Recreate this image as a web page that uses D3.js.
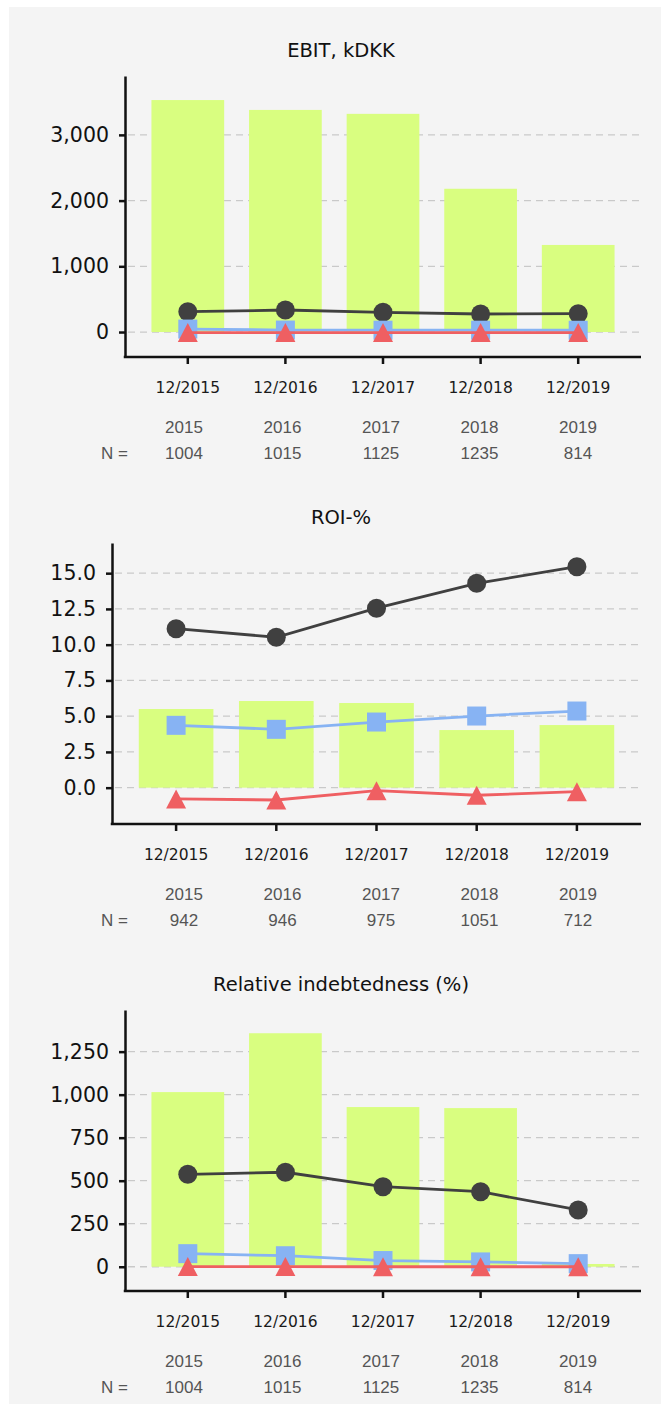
<!DOCTYPE html>
<html>
<head>
<meta charset="utf-8">
<script src="https://cdn.jsdelivr.net/npm/d3@7"></script>
<style>
  html, body { margin: 0; padding: 0; background: #ffffff; }
  svg { display: block; }
</style>
</head>
<body>
<svg id="chart" width="661" height="1405"></svg>
<script>
// Reporting periods and the sample table underneath each panel
const periods = ["12/2015", "12/2016", "12/2017", "12/2018", "12/2019"];
const years = ["2015", "2016", "2017", "2018", "2019"];

// EBIT, kDKK
const ebitCompany = [3530, 3380, 3320, 2180, 1325];
const ebitUpper = [309, 335, 300, 274, 279];
const ebitMedian = [45, 30, 28, 28, 27];
const ebitLower = [-8, -8, -8, -8, -8];
const ebitN = [1004, 1015, 1125, 1235, 814];
const ebitTicks = [0, 1000, 2000, 3000];
const ebitDomain = [-380, 3896];

// ROI-%
const roiCompany = [5.50, 6.06, 5.92, 4.03, 4.38];
const roiUpper = [11.12, 10.52, 12.55, 14.29, 15.45];
const roiMedian = [4.36, 4.08, 4.59, 5.01, 5.36];
const roiLower = [-0.79, -0.86, -0.21, -0.53, -0.28];
const roiN = [942, 946, 975, 1051, 712];
const roiTicks = [0, 2.5, 5, 7.5, 10, 12.5, 15];
const roiDomain = [-2.54, 17.11];

// Relative indebtedness (%)
const debtCompany = [1015, 1357, 928, 922, 16];
const debtUpper = [537, 549, 465, 436, 330];
const debtMedian = [76, 64, 36, 28, 18];
const debtLower = [1, 1, 0, 0, 0];
const debtN = [1004, 1015, 1125, 1235, 814];
const debtTicks = [0, 250, 500, 750, 1000, 1250];
const debtDomain = [-141, 1492];

const panels = [
  { title: "EBIT, kDKK", company: ebitCompany, upper: ebitUpper, median: ebitMedian,
    lower: ebitLower, n: ebitN, ticks: ebitTicks, domain: ebitDomain,
    fmt: d3.format(",.0f"), left: 125 },
  { title: "ROI-%", company: roiCompany, upper: roiUpper, median: roiMedian,
    lower: roiLower, n: roiN, ticks: roiTicks, domain: roiDomain,
    fmt: d3.format(".1f"), left: 112 },
  { title: "Relative indebtedness (%)", company: debtCompany, upper: debtUpper, median: debtMedian,
    lower: debtLower, n: debtN, ticks: debtTicks, domain: debtDomain,
    fmt: d3.format(",.0f"), left: 125 }
];

const colors = {
  bg: "#f4f4f4",
  bar: "#d9fe80",
  upper: "#404040",
  median: "#87b3f3",
  lower: "#ef5f62",
  grid: "#c9c9c9",
  axis: "#111111",
  table: "#555555"
};

const svg = d3.select("#chart");
svg.append("rect").attr("x", 9).attr("y", 7).attr("width", 652).attr("height", 1397)
  .attr("fill", colors.bg);

const panelHeight = 467;
const plotTop = 76, plotBottom = 357, plotRight = 641;
const tableX = d3.scalePoint().domain(years).range([184, 578]);

const triangle = (w, h) => `M0,${-h / 2}L${w / 2},${h / 2}L${-w / 2},${h / 2}Z`;

panels.forEach((p, i) => {
  const g = svg.append("g").attr("transform", `translate(0,${i * panelHeight})`);

  const x = d3.scaleBand().domain(periods)
    .range([p.left + 14, plotRight - 14]).paddingInner(0.255).paddingOuter(0.1275);
  const y = d3.scaleLinear().domain(p.domain).range([plotBottom, plotTop]);
  const cx = d => x(d) + x.bandwidth() / 2;

  // Title
  g.append("text").attr("x", 341).attr("y", 56.5).attr("text-anchor", "middle")
    .attr("font-family", "DejaVu Sans").attr("font-size", 19.5).attr("fill", "#111")
    .text(p.title);

  // Gridlines
  g.append("g").selectAll("line").data(p.ticks).join("line")
    .attr("x1", p.left + 3).attr("x2", plotRight)
    .attr("y1", d => y(d)).attr("y2", d => y(d))
    .attr("stroke", colors.grid).attr("stroke-width", 1.3)
    .attr("stroke-dasharray", "7,5");

  // Company bars
  g.append("g").selectAll("rect").data(periods).join("rect")
    .attr("x", d => x(d)).attr("width", x.bandwidth())
    .attr("y", (d, j) => Math.min(y(p.company[j]), y(0)))
    .attr("height", (d, j) => Math.abs(y(0) - y(p.company[j])))
    .attr("fill", colors.bar);

  // Y axis
  const yAxis = g.append("g").attr("transform", `translate(${p.left},0)`)
    .call(d3.axisLeft(y).tickValues(p.ticks).tickFormat(p.fmt).tickSize(6).tickSizeOuter(0).tickPadding(10));
  yAxis.select(".domain").attr("stroke", colors.axis).attr("stroke-width", 2.5);
  yAxis.selectAll(".tick line").attr("stroke", colors.axis).attr("stroke-width", 2.5);
  yAxis.selectAll(".tick text").attr("font-family", "DejaVu Sans").attr("font-size", 20.5)
    .attr("fill", "#111");

  // X axis
  const xAxis = g.append("g").attr("transform", `translate(0,${plotBottom})`)
    .call(d3.axisBottom(x).tickSize(7).tickPadding(18));
  xAxis.select(".domain").remove();
  xAxis.selectAll(".tick line").attr("stroke", colors.axis).attr("stroke-width", 2.5);
  xAxis.selectAll(".tick text").attr("font-family", "DejaVu Sans").attr("font-size", 15.5)
    .attr("fill", "#1a1a1a");
  g.append("line").attr("x1", p.left - 1.25).attr("x2", plotRight)
    .attr("y1", plotBottom).attr("y2", plotBottom)
    .attr("stroke", colors.axis).attr("stroke-width", 2.5);

  // Quartile series
  const series = [
    { values: p.upper, color: colors.upper, shape: "circle" },
    { values: p.median, color: colors.median, shape: "square" },
    { values: p.lower, color: colors.lower, shape: "triangle" }
  ];
  series.forEach(s => {
    const pts = periods.map((d, j) => [cx(d), y(s.values[j])]);
    g.append("path").attr("d", d3.line()(pts)).attr("fill", "none")
      .attr("stroke", s.color).attr("stroke-width", 2.8);
    const m = g.append("g").selectAll("g").data(pts).join("g")
      .attr("transform", d => `translate(${d[0]},${d[1]})`);
    if (s.shape === "circle") {
      m.append("circle").attr("r", 9.5).attr("fill", s.color);
    } else if (s.shape === "square") {
      m.append("rect").attr("x", -9.5).attr("y", -9.5).attr("width", 19).attr("height", 19)
        .attr("fill", s.color);
    } else {
      m.append("path").attr("d", triangle(20, 19)).attr("fill", s.color);
    }
  });

  // Sample table
  g.append("g").selectAll("text").data(years).join("text")
    .attr("x", d => tableX(d)).attr("y", 432.8).attr("text-anchor", "middle")
    .attr("font-family", "Liberation Sans").attr("font-size", 17).attr("fill", colors.table)
    .text(d => d);
  g.append("text").attr("x", 128).attr("y", 459.4).attr("text-anchor", "end")
    .attr("font-family", "Liberation Sans").attr("font-size", 17).attr("fill", colors.table)
    .text("N =");
  g.append("g").selectAll("text").data(p.n).join("text")
    .attr("x", (d, j) => tableX(years[j])).attr("y", 459.4).attr("text-anchor", "middle")
    .attr("font-family", "Liberation Sans").attr("font-size", 17).attr("fill", colors.table)
    .text(d => d);
});
</script>
</body>
</html>
